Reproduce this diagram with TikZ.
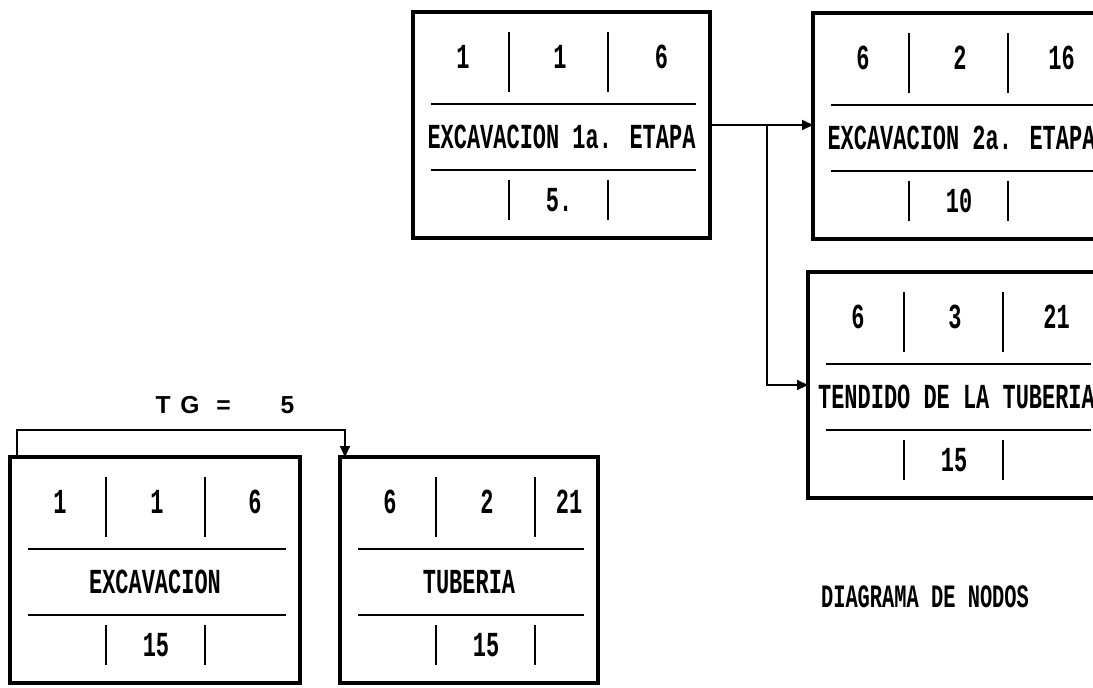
\documentclass[tikz,border=0pt]{standalone}
\usepackage{fontspec}
\setmainfont{Liberation Mono}
\newfontfamily\tgfont[LetterSpace=40]{Liberation Sans}
\usetikzlibrary{arrows.meta, positioning, calc}

\newcommand{\tall}[1]{\scalebox{1}[1.6]{#1}}
% name, x, y, width, start, middle, finish, activity, duration
\newcommand{\actbox}[9]{%
  \begin{scope}[shift={(#2,#3)}]
    \node[frame, anchor=north west, minimum width=#4*0.02cm,
      minimum height=226*0.02cm] (#1) at (0,0) {};
    \draw[rule] (18,92) -- (#4-14,92);
    \draw[rule] (18,158) -- (#4-14,158);
    \draw[rule] (96,20) -- (96,80);
    \draw[rule] (195,20) -- (195,80);
    \draw[rule] (96,168) -- (96,208);
    \draw[rule] (195,168) -- (195,208);
    \node[field] (#1-es) at (50,45) {\tall{#5}};
    \node[field] (#1-mid) at (147,45) {\tall{#6}};
    \node[field] (#1-ef) at ({(200+#4)/2},45) {\tall{#7}};
    \node[field] (#1-name) at ({#4/2},125) {\tall{#8}};
    \node[field] (#1-dur) at (146,188) {\tall{#9}};
  \end{scope}}

\begin{document}
\begin{tikzpicture}[x=0.02cm, y=-0.02cm,
  frame/.style={draw, line width=2.4pt, inner sep=0pt, outer sep=0pt},
  rule/.style={line width=1.1pt},
  field/.style={inner sep=0pt, font=\bfseries\fontsize{12.5}{14}\selectfont},
  link/.style={-{Triangle[length=0.22cm, width=0.2cm]}, line width=1.2pt}]

  \useasboundingbox (0,0) rectangle (1093,687);
  \clip (0,0) rectangle (1093,687);

  \actbox{exc1}{413}{12}{297}{1}{1}{6}{EXCAVACION 1a. ETAPA}{5.}
  \actbox{exc2}{813}{13}{297}{6}{2}{16}{EXCAVACION 2a. ETAPA}{10}
  \actbox{tend}{808}{272}{297}{6}{3}{21}{TENDIDO DE LA TUBERIA}{15}
  \actbox{exc}{10}{457}{290}{1}{1}{6}{EXCAVACION}{15}
  \actbox{tub}{340}{457}{258}{6}{2}{21}{TUBERIA}{15}

  % links between activities
  \coordinate (split) at ($(exc1.east)!0.55!(exc1.east -| exc2.west)$);
  \draw[link] (exc1.east) -- (exc1.east -| exc2.west);
  \draw[link] (split) |- (tend.west);

  \coordinate (lag) at (180,430);
  \draw[link] ($(exc.north west)+(7,0)$) |- (lag) -| ($(tub.north west)+(5,0)$);
  \node[font=\tgfont\bfseries\fontsize{14}{16}\selectfont] (tg) at (225,405) {TG = \ \ 5};

  \node[field, font=\bfseries\fontsize{11.6}{14}\selectfont] (title) at (925,597)
    {\tall{DIAGRAMA DE NODOS}};

\end{tikzpicture}
\end{document}
